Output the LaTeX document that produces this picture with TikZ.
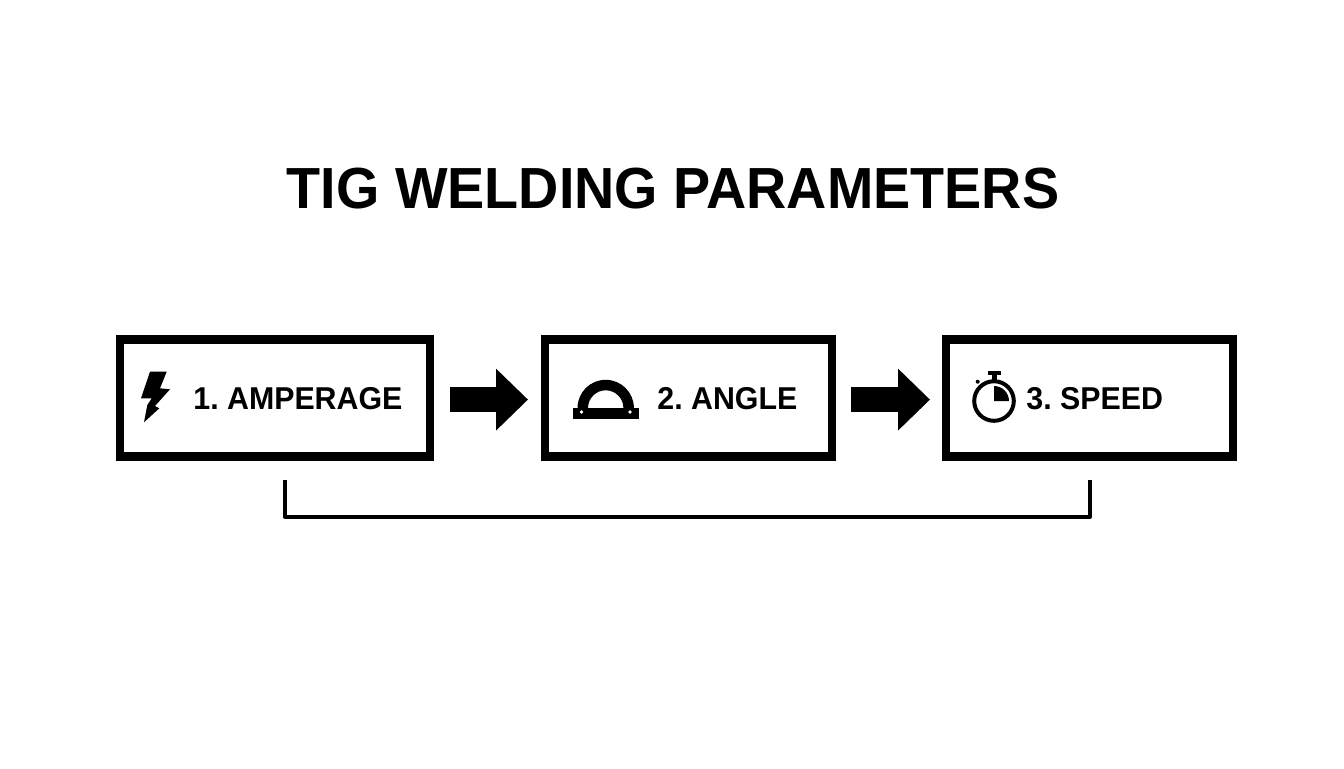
\documentclass[tikz,border=0pt]{standalone}
\usepackage{fontspec}
\usepackage{xcolor}
\setmainfont[FakeStretch=0.96]{Liberation Sans}
\frenchspacing
\usetikzlibrary{arrows.meta}
\tikzset{
    parambox/.style={rectangle,draw,line width=4.2pt,minimum height=58.55pt,inner sep=0pt},
    paramtext/.style={anchor=base west,inner sep=0pt,font=\bfseries\fontsize{15.8}{20}\selectfont},
    flowarrow/.style={-{Triangle[length=16pt,width=30pt]},line width=12.5pt},
    bracketline/.style={line width=1.9pt,line join=round}
}

\begin{document}
\begin{tikzpicture}[x=0.5pt,y=-0.5pt]
    \useasboundingbox (0,0) rectangle (1344,768);

    % Title
    \node[inner sep=0pt,font=\bfseries\fontsize{29}{34}\selectfont] (title) at (673,189) {TIG WELDING PARAMETERS};

    % Nodes
    \node[parambox,minimum width=154.8pt] (amperage) at (275,398) {};
    \node[parambox,minimum width=143.3pt] (angle) at (688.5,398) {};
    \node[parambox,minimum width=143.3pt] (speed) at (1089.5,398) {};

    % Labels
    \node[paramtext] (amperagetext) at (193,409) {1. AMPERAGE};
    \node[paramtext] (angletext) at (657,409) {2. ANGLE};
    \node[paramtext] (speedtext) at (1026,409) {3. SPEED};

    % Arrows
    \draw[flowarrow,shorten <=8pt,shorten >=6.5pt] ([yshift=-0.8pt]amperage.east) -- ([yshift=-0.8pt]angle.west);
    \draw[flowarrow,shorten <=7.5pt,shorten >=6pt] ([yshift=-0.8pt]angle.east) -- ([yshift=-0.8pt]speed.west);

    % Bracket
    \coordinate (bracketl) at (285,480);
    \coordinate (bracketr) at (1090,480);
    \draw[bracketline] (bracketl) -- (285,517) -- (1090,517) -- (bracketr);

    % Bolt icon
    \fill (150,371.7) -- (166.7,371.7) -- (160,388.3) -- (170,389.3) -- (155,406) -- (159.3,408.3)
        -- (144,422.3) -- (147.3,405) -- (151.7,398.3) -- (141,398.3) -- cycle;

    % Protractor icon
    \fill[even odd rule] (577.5,408) arc[start angle=180,end angle=360,radius=28.2] -- cycle
        (588,408) arc[start angle=180,end angle=360,radius=17.7] -- cycle;
    \fill (572.5,407.5) rectangle (639,418.5);
    \fill[white] (581.5,412) circle (1.8) (630,412) circle (1.8);

    % Stopwatch icon
    \draw[line width=2pt] (994,401) circle (19.8);
    \fill (987.5,370.5) rectangle (1000.5,375);
    \fill (991.5,375) rectangle (996.5,381);
    \fill (994,401) -- (994,386) arc[start angle=270,end angle=360,radius=15] -- cycle;
    \fill (977.7,381.7) circle (2);
\end{tikzpicture}
\end{document}
